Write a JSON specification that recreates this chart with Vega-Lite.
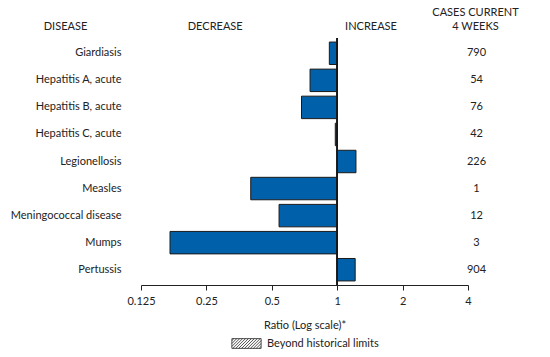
{
  "$schema": "https://vega.github.io/schema/vega-lite/v6.json",
  "autosize": {"type": "none"},
  "width": 327,
  "height": 247,
  "padding": {"left": 141, "top": 38, "right": 82, "bottom": 72},
  "background": "white",
  "config": {
    "view": {"stroke": null},
    "font": "Lato",
    "axis": {"labelFont": "Lato", "titleFont": "Lato", "labelColor": "#222", "titleColor": "#222", "labelFontSize": 11, "titleFontSize": 11, "titleFontWeight": "normal", "grid": false},
    "legend": {"labelFont": "Lato", "labelFontSize": 11, "labelColor": "#222"}
  },
  "data": {"values": [
    {"disease": "Giardiasis", "ratio": 0.92, "cases": "790"},
    {"disease": "Hepatitis A, acute", "ratio": 0.75, "cases": "54"},
    {"disease": "Hepatitis B, acute", "ratio": 0.685, "cases": "76"},
    {"disease": "Hepatitis C, acute", "ratio": 0.98, "cases": "42"},
    {"disease": "Legionellosis", "ratio": 1.22, "cases": "226"},
    {"disease": "Measles", "ratio": 0.40, "cases": "1"},
    {"disease": "Meningococcal disease", "ratio": 0.54, "cases": "12"},
    {"disease": "Mumps", "ratio": 0.17, "cases": "3"},
    {"disease": "Pertussis", "ratio": 1.21, "cases": "904"}
  ]},
  "layer": [
    {
      "mark": {"type": "bar", "fill": "#0061AA", "stroke": "#1a1a1a", "strokeWidth": 1},
      "encoding": {
        "y": {"field": "disease", "type": "nominal", "sort": null,
          "scale": {"paddingInner": 0.17, "paddingOuter": 0.15},
          "axis": {"orient": "left", "ticks": false, "domain": false, "labelPadding": 20, "labelAlign": "right", "labelBaseline": "middle",
            "title": "DISEASE", "titleAngle": 0, "titleAlign": "center", "titleBaseline": "alphabetic", "titleX": -76, "titleY": -9}},
        "x": {"field": "ratio", "type": "quantitative",
          "scale": {"type": "log", "base": 2, "domain": [0.125, 4], "nice": false},
          "axis": {"orient": "bottom", "values": [0.125, 0.25, 0.5, 1, 2, 4], "labelExpr": "format(datum.value, '')", "domainColor": "#222", "tickColor": "#222", "tickSize": 5, "labelPadding": 5, "labelFlush": false,
            "title": "Ratio (Log scale)*", "titlePadding": 13}},
        "x2": {"datum": 1}
      }
    },
    {
      "mark": {"type": "rule", "color": "#1a1a1a", "strokeWidth": 1},
      "encoding": {
        "x": {"datum": 1, "type": "quantitative",
          "axis": {"orient": "top", "values": [0.273, 1.423], "labelExpr": "datum.value < 1 ? 'DECREASE' : 'INCREASE'", "domain": false, "ticks": false, "tickSize": 0, "labelPadding": 9, "labelBaseline": "alphabetic", "labelFlush": false, "title": null}}
      }
    },
    {
      "mark": {"type": "bar", "opacity": 0},
      "encoding": {
        "y": {"field": "cases", "type": "nominal", "sort": null,
          "scale": {"paddingInner": 0.17, "paddingOuter": 0.15},
          "axis": {"orient": "right", "ticks": false, "domain": false, "labelPadding": 8, "labelAlign": "center", "labelBaseline": "middle",
            "title": ["CASES CURRENT", "4 WEEKS"], "titleAngle": 0, "titleAlign": "center", "titleBaseline": "alphabetic", "titleLineHeight": 14, "titleX": 7, "titleY": -23}},
        "x": {"field": "ratio", "type": "quantitative", "axis": null}
      }
    },
    {
      "data": {"values": [{"limits": "Beyond historical limits"}]},
      "mark": {"type": "point", "opacity": 0},
      "encoding": {
        "shape": {"field": "limits", "type": "nominal",
          "scale": {"range": ["M-1.5,-0.5H1.5V0.5H-1.5Z M-1.5,-0.3L-1.3,-0.5 M-1.5,0L-1,-0.5 M-1.5,0.3L-0.7,-0.5 M-1.4,0.5L-0.4,-0.5 M-1.1,0.5L-0.1,-0.5 M-0.8,0.5L0.2,-0.5 M-0.5,0.5L0.5,-0.5 M-0.2,0.5L0.8,-0.5 M0.1,0.5L1.1,-0.5 M0.4,0.5L1.4,-0.5 M0.7,0.5L1.5,-0.3 M1,0.5L1.5,0 M1.3,0.5L1.5,0.3"]},
          "legend": {"orient": "none", "legendX": 95, "legendY": 295, "title": null, "padding": 0, "symbolSize": 380, "symbolOpacity": 1, "symbolFillColor": "white", "symbolStrokeColor": "#222", "symbolStrokeWidth": 0.8, "labelOffset": 10}}
      }
    }
  ],
  "resolve": {"scale": {"y": "independent"}, "axis": {"x": "independent", "y": "independent"}}
}
